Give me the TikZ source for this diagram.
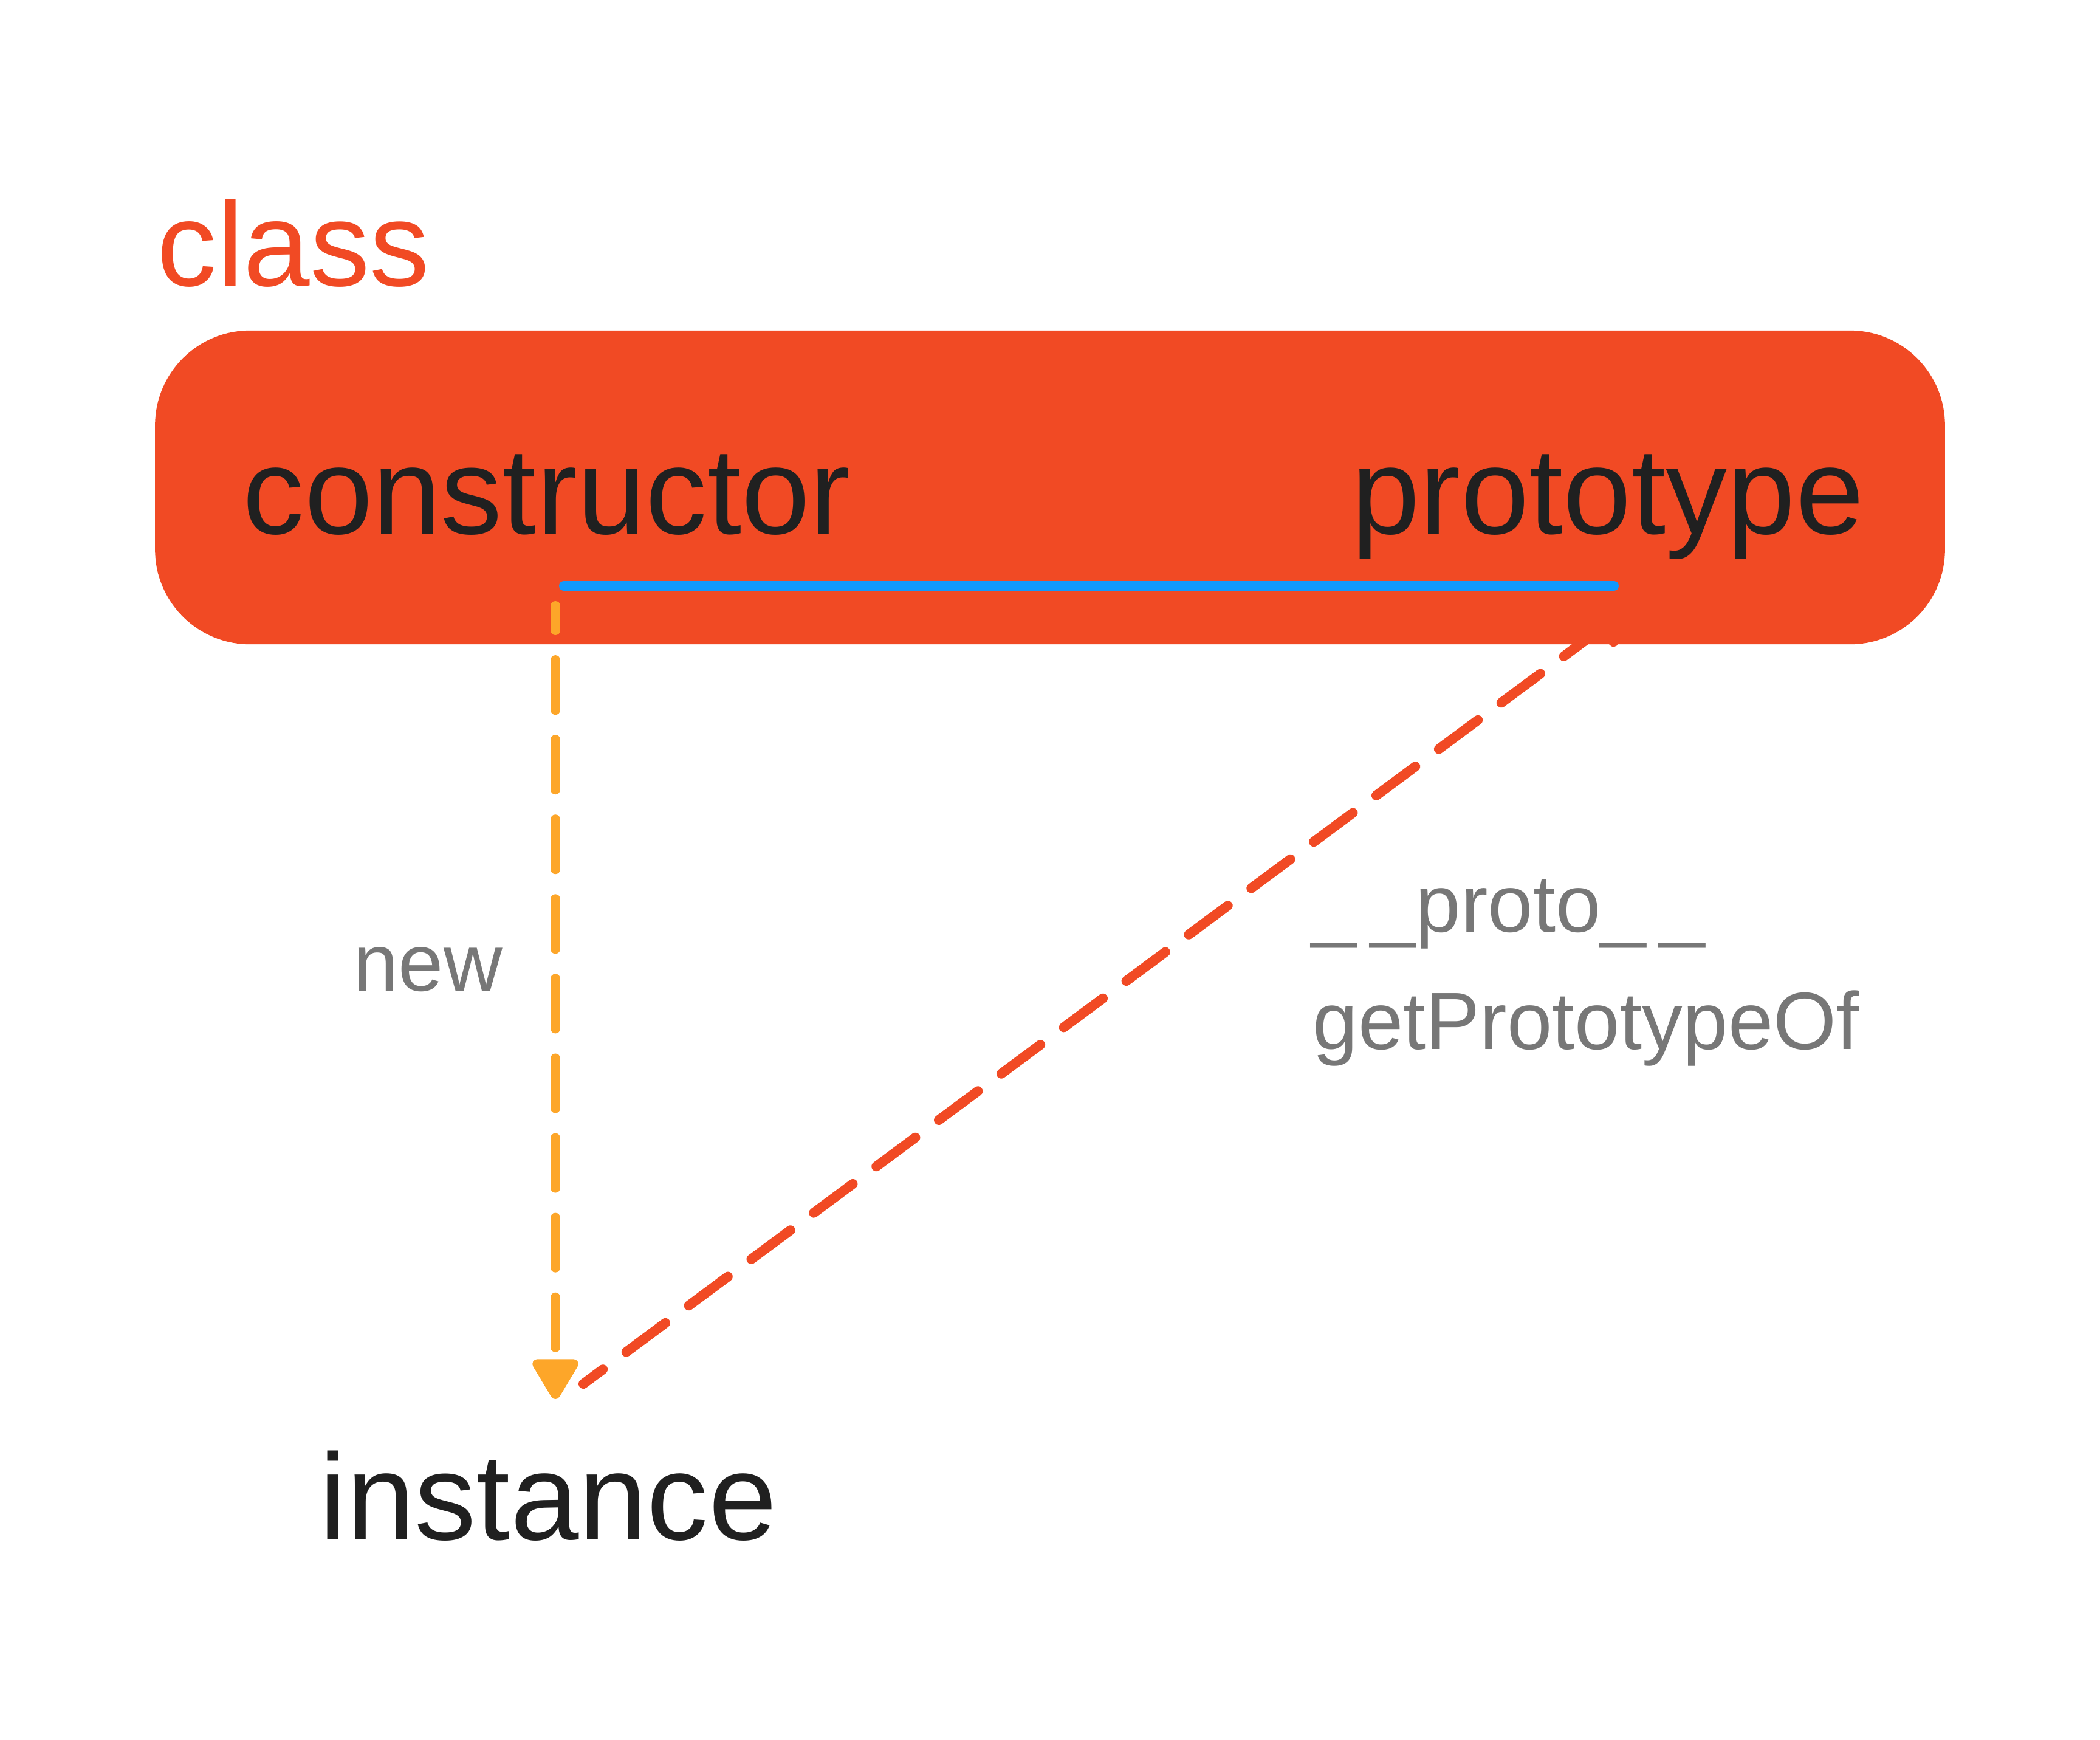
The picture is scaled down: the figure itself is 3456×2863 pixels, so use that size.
\documentclass[tikz,border=0pt]{standalone}
\usepackage{fontspec}
\setmainfont{Liberation Sans}
\usetikzlibrary{positioning}
\usetikzlibrary{arrows.meta}
\definecolor{classc}{RGB}{241,74,36}
\definecolor{textc}{RGB}{32,32,32}
\definecolor{labelc}{RGB}{119,119,119}
\definecolor{linkc}{RGB}{17,153,252}
\definecolor{newc}{RGB}{253,166,41}

\begin{document}
\begin{tikzpicture}[x=0.01cm,y=-0.01cm,
  bigtext/.style={inner sep=0pt,text=textc,font=\fontsize{57.5}{69}\selectfont},
  smalltext/.style={inner sep=0pt,text=labelc,font=\fontsize{38}{46}\selectfont},
  dashlink/.style={line width=0.16cm,line cap=round,dash pattern=on 0.80cm off 0.48cm,dash phase=0.40cm}]
\useasboundingbox (0,0) rectangle (3456,2863);

\coordinate (protoout) at (960,2277);
\coordinate (protoin) at (2684,998);
\draw[dashlink,classc,-{Triangle[length=0.74cm,width=0.83cm,round]}] (protoout) -- (protoin);

\node[anchor=center,fill=classc,shape=rectangle,rounded corners=1.56cm,minimum height=5.16cm,minimum width=29.44cm]
(classbox) at (1728,802) {};
\node[anchor=base,inner sep=0pt,text=classc,font=\fontsize{56}{67}\selectfont] (classlabel) at (483,470) {class};

\node[bigtext,anchor=base] (ctor) at (900,878) {constructor};
\node[bigtext,anchor=base] (proto) at (2646,878) {prototype};

\coordinate (linkstart) at (928,964);
\coordinate (linkend) at (2656,964);
\draw[linkc,line width=0.16cm,line cap=round] (linkstart) -- (linkend);

\coordinate (newout) at (914,997);
\coordinate (newin) at (914,2302);
\draw[newc,line width=0.16cm,line cap=round,dash pattern=on 0.82cm off 0.49cm,dash phase=0.42cm,
  -{Triangle[length=0.74cm,width=0.83cm,round]}] (newout) -- (newin);

\node[smalltext,anchor=base] (newlabel) at (704,1630) {new};
\node[smalltext,anchor=base west] (protolabel) at (2158,1533) {\_\kern0.17em\_proto\_\kern0.17em\_};
\node[smalltext,anchor=base west] (getlabel) at (2160,1726) {getPrototypeOf};

\node[bigtext,anchor=base] (instance) at (902,2533) {instance};

\end{tikzpicture}
\end{document}
